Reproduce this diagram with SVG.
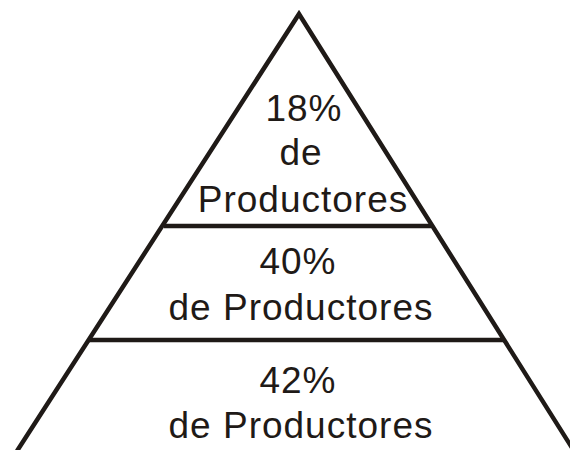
<svg xmlns="http://www.w3.org/2000/svg" width="570" height="450" viewBox="0 0 570 450">
<style>
.ln{stroke:#1f1a17;stroke-width:4.5;fill:none;stroke-linecap:butt;stroke-linejoin:miter}
.t{font-family:"Liberation Sans",Arial,sans-serif;font-size:37px;fill:#1f1a17;text-anchor:middle;letter-spacing:1px}
</style>
<rect width="570" height="450" fill="#ffffff"/>
<g id="connectors">
<polyline class="ln" points="17,451 299,14 574,451"/>
<line class="ln" x1="164" y1="226" x2="431" y2="226"/>
<line class="ln" x1="89" y1="340" x2="504" y2="340"/>
</g>
<g id="top">
<text class="t" x="304" y="121">18%</text>
<text class="t" x="301" y="165">de</text>
<text class="t" x="303" y="212">Productores</text>
</g>
<g id="middle">
<text class="t" x="298" y="274">40%</text>
<text class="t" x="301" y="320">de Productores</text>
</g>
<g id="bottom">
<text class="t" x="298" y="393">42%</text>
<text class="t" x="301" y="438">de Productores</text>
</g>
</svg>
